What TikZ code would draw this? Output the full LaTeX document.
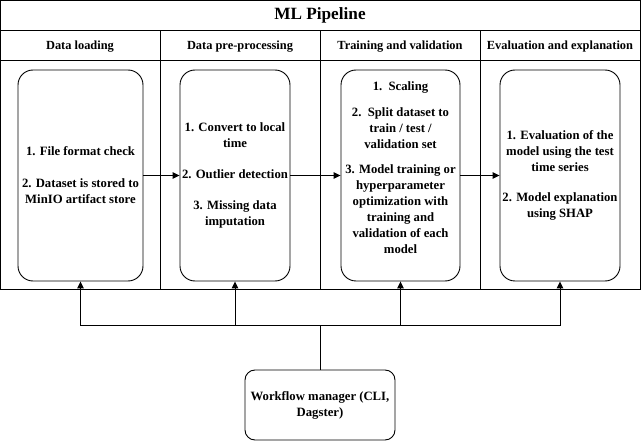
\documentclass[tikz,border=0pt]{standalone}
\usepackage{fontspec}
\setmainfont{Liberation Serif}[BoldFont={Liberation Serif Bold}]
\usetikzlibrary{arrows.meta}
\tikzset{
  frame/.style={draw=black, line width=1pt},
  stagebox/.style={draw=black, line width=0.9pt, rounded corners=15pt, inner sep=0pt, align=center,
    font=\fontsize{12.7}{16}\selectfont\bfseries},
  txt/.style={inner sep=0pt, align=center, font=\fontsize{12.7}{16}\selectfont\bfseries},
  hdr/.style={inner sep=0pt, font=\fontsize{12.4}{14}\selectfont\bfseries},
  ttl/.style={inner sep=0pt, font=\fontsize{17.2}{19}\selectfont\bfseries},
  arr/.style={draw=black, line width=0.9pt, -{Triangle[length=7pt,width=6.5pt]}},
  conn/.style={draw=black, line width=0.9pt}
}
\begin{document}
\begin{tikzpicture}[x=1pt,y=-1pt]
\useasboundingbox (0,0) rectangle (641,441);
% frame
\draw[frame] (0.5,0.5) rectangle (640.5,290);
\draw[frame] (0.5,30.5) -- (640.5,30.5);
\draw[frame] (0.5,60.5) -- (640.5,60.5);
\draw[frame] (160,30.5) -- (160,290);
\draw[frame] (320,30.5) -- (320,290);
\draw[frame] (480,30.5) -- (480,290);
% titles
\node[ttl] (title) at (320,15.5) {ML Pipeline};
\node[hdr] (h1) at (80,46.5) {Data loading};
\node[hdr] (h2) at (240,46.5) {Data pre-processing};
\node[hdr] (h3) at (400,46.5) {Training and validation};
\node[hdr] (h4) at (560,46.5) {Evaluation and explanation};
% stage boxes
\node[stagebox, minimum width=125pt, minimum height=211pt] (b1) at (80.5,175.5)
  {1. File format check\\[16pt]2. Dataset is stored to\\MinIO artifact store};
\node[stagebox, minimum width=110pt, minimum height=211pt] (b2) at (235,175.5)
  {1. Convert to local\\time\\[15pt]2. Outlier detection\\[15pt]3. Missing data\\imputation};
\node[stagebox, minimum width=119pt, minimum height=211pt] (b3) at (400.5,175.5) {};
\node[txt] (t3) at ([yshift=7.5pt]b3.center)
  {1.\ \ Scaling\\[10pt]2.\ \ Split dataset to\\train / test /\\validation set\\[9pt]3. Model training or\\hyperparameter\\optimization with\\training and\\validation of each\\model};
\node[stagebox, minimum width=120pt, minimum height=211pt] (b4) at (560,175.5)
  {1. Evaluation of the\\model using the test\\time series\\[14pt]2. Model explanation\\using SHAP};
% workflow manager
\node[stagebox, rounded corners=10pt, minimum width=150pt, minimum height=70pt] (wf) at (320,405)
  {Workflow manager (CLI,\\Dagster)};
% connectors
\draw[arr] (b1.east) -- (b2.west);
\draw[arr] (b2.east) -- (b3.west);
\draw[arr] (b3.east) -- (b4.west);
\coordinate (bus) at (320,325);
\draw[conn] (wf.north) -- (bus);
\draw[arr] (bus) -| (b1.south);
\draw[arr] (bus) -| (b2.south);
\draw[arr] (bus) -| (b3.south);
\draw[arr] (bus) -| (b4.south);
\end{tikzpicture}
\end{document}
